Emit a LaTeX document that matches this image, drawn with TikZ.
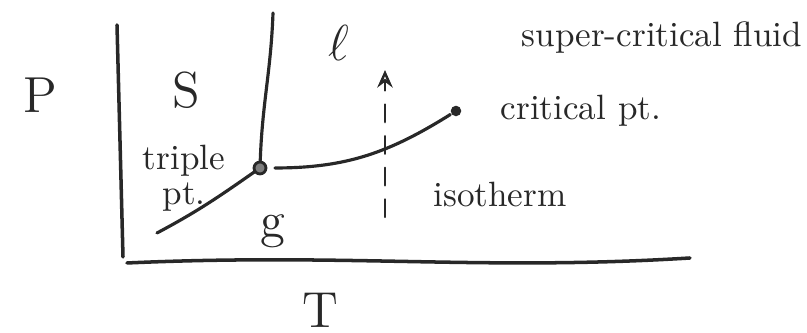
\documentclass[tikz,border=0pt]{standalone}
\usepackage{amsmath,amssymb}
\usetikzlibrary{arrows.meta,calc,positioning}
\definecolor{fg}{RGB}{40,40,40}
\definecolor{bg}{RGB}{255,255,255}
\tikzset{
  every picture/.style={fg, line width=0.8pt, line cap=round, line join=round,
    >={Stealth[length=5pt,width=4.4pt,open]}},
  every node/.style={font=\normalsize},
  % Linientypen
  axis/.style={line width=1pt},
  phase/.style={line width=0.9pt},
  iso/.style={line width=0.7pt, dash pattern=on 5pt off 4pt, ->},
  % Punkte
  tpt/.style={circle, draw=fg, fill=fg!60, line width=0.8pt, inner sep=0pt, minimum size=3.4pt},
  cpt/.style={circle, fill=fg, inner sep=0pt, minimum size=3pt},
  % Beschriftung
  big/.style={font=\Large},
}
\begin{document}
\begin{tikzpicture}
  \useasboundingbox (0,0) rectangle (8.07,3.33);
  % Achsen
  \coordinate (ptop) at (1.17,3.08);
  \coordinate (orig) at (1.23,0.76);
  \coordinate (tzero) at (1.27,0.70);
  \coordinate (tend) at (6.90,0.75);
  \draw[axis] (ptop) -- (orig);
  \draw[axis] (tzero) .. controls (3.5,0.80) and (4.8,0.62) .. (tend);
  \node[big] (plbl) at (0.40,2.38) {P};
  \node[big, inner sep=0pt, anchor=base] (tlbl) at (3.20,0.05) {T};
  % Tripelpunkt und kritischer Punkt
  \node[tpt] (tp) at (2.60,1.65) {};
  \node[cpt] (cp) at (4.56,2.22) {};
  \coordinate (mtop) at (2.73,3.20);
  \coordinate (sbot) at (1.57,1.00);
  % Phasengrenzen
  \draw[phase] (mtop) to[out=-92,in=88] (tp);
  \draw[phase] (sbot) to[out=28,in=215] (tp);
  \draw[phase] ($(tp)+(0.15,0)$) to[out=0,in=212] (cp);
  % Isotherme
  \coordinate (isolo) at (3.85,1.16);
  \coordinate (isohi) at (3.85,2.63);
  \draw[iso] (isolo) -- (isohi);
  % Phasen
  \node[big] (sol) at (1.86,2.43) {S};
  \node[big] (liq) at (3.39,2.90) {$\ell$};
  \node[big] (gas) at (2.73,1.02) {g};
  % Beschriftungen
  \node[align=center, inner sep=0pt] (tplbl) at (1.84,1.55) {triple\\[-2pt]pt.};
  \node[right=0.25 of cp] (cplbl) {critical pt.};
  \node (isolbl) at (5.00,1.38) {isotherm};
  \node (scf) at (6.62,2.95) {super-critical fluid};
\end{tikzpicture}
\end{document}
